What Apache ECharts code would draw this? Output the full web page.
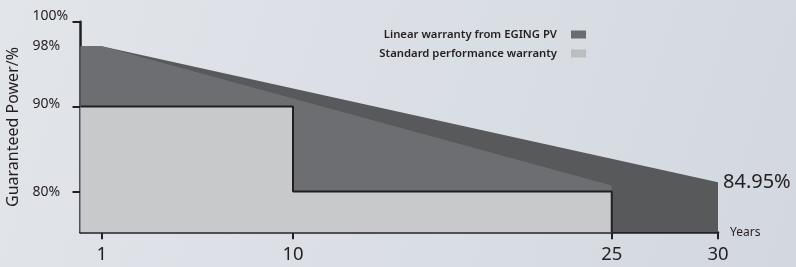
<!DOCTYPE html>
<html>
<head>
<meta charset="utf-8">
<title>Guaranteed Power</title>
<script src="https://cdn.jsdelivr.net/npm/echarts@6/dist/echarts.min.js"></script>
<style>
  html, body { margin: 0; padding: 0; }
  #chart { width: 796px; height: 267px; }
</style>
</head>
<body>
<div id="chart"></div>
<script>
// values (the drawing is schematic, so the y positions are what it shows)
var outerYears = [0, 1, 30];
var outerPower = [97.1, 97.1, 81.1];
var linearYears = [0, 1, 25];
var linearPower = [97.1, 97.1, 80.7];
var stdYears = [0, 10, 10, 25, 25];
var stdPower = [90, 90, 80, 80, 75.2];

var xTicks = [1, 10, 25, 30];
var yTicks = [80, 90, 99.99];
var yLabelValues = [80, 90, 97.1, 99.99];
var yLabelTexts = ['80%', '90%', '98%', '100%'];
var endLabel = '84.95%';

var ink = '#231f20';

function pairs(xs, ys) {
  return xs.map(function (x, i) { return [x, ys[i]]; });
}

var chart = echarts.init(document.getElementById('chart'));

chart.setOption({
  backgroundColor: {
    type: 'linear', x: 0, y: 0, x2: 1, y2: 1,
    colorStops: [{ offset: 0, color: '#e2e5ea' }, { offset: 1, color: '#d3d8e0' }]
  },
  textStyle: { fontFamily: 'Noto Sans' },
  animation: false,
  grid: { left: 80.5, right: 78, top: 21.7, bottom: 34.7, outerBoundsMode: 'none' },
  legend: {
    orient: 'vertical',
    right: 205,
    top: 24,
    align: 'right',
    icon: 'rect',
    itemWidth: 15,
    itemHeight: 8,
    itemGap: 8,
    textStyle: { fontSize: 11.3, fontWeight: 600, color: ink, padding: [0, 9, 0, 0] },
    data: [
      { name: 'Linear warranty from EGING PV', itemStyle: { color: '#6b6c70' } },
      { name: 'Standard performance warranty', itemStyle: { color: '#bcbdbf' } }
    ]
  },
  xAxis: {
    type: 'value',
    min: 0,
    max: 30,
    name: 'Years',
    nameLocation: 'end',
    nameGap: 12,
    nameTextStyle: { fontSize: 12, color: ink, padding: [4, 0, 0, 0] },
    splitLine: { show: false },
    axisLine: { lineStyle: { color: ink, width: 2.5 } },
    axisTick: { customValues: xTicks, length: 7, lineStyle: { color: ink, width: 2 } },
    axisLabel: { customValues: xTicks, margin: 13, fontSize: 18.5, color: ink }
  },
  yAxis: {
    type: 'value',
    min: 75.2,
    max: 100,
    name: 'Guaranteed Power/%',
    nameLocation: 'middle',
    nameGap: 58,
    nameTextStyle: { fontSize: 16, color: ink },
    splitLine: { show: false },
    axisLine: { show: true, lineStyle: { color: ink, width: 2.5 } },
    axisTick: { show: true, customValues: yTicks, length: 8, lineStyle: { color: ink, width: 2 } },
    axisLabel: {
      customValues: yLabelValues,
      align: 'left',
      margin: 48,
      fontSize: 14,
      color: ink,
      formatter: function (v) {
        var i = yLabelValues.indexOf(v);
        if (i < 0) return '';
        if (i === 3) return '{up|' + yLabelTexts[i] + '}';
        if (i === 1) return '{half|' + yLabelTexts[i] + '}';
        return yLabelTexts[i];
      },
      rich: {
        up: { fontSize: 14, color: ink, padding: [0, 0, 12, 0] },
        half: { fontSize: 14, color: ink, padding: [0, 0, 6, 0] }
      }
    }
  },
  series: [
    {
      name: 'outer',
      type: 'line',
      data: pairs(outerYears, outerPower),
      showSymbol: false,
      symbol: 'none',
      lineStyle: { width: 0 },
      areaStyle: { color: '#58595b', opacity: 1 },
      endLabel: {
        show: true, distance: 5,
        formatter: endLabel, color: ink, fontSize: 20, fontFamily: 'Noto Sans'
      },
      z: 1
    },
    {
      name: 'Linear warranty from EGING PV',
      type: 'line',
      data: pairs(linearYears, linearPower),
      showSymbol: false,
      symbol: 'none',
      color: '#6b6c70',
      lineStyle: { width: 0 },
      areaStyle: { color: '#6d6e71', opacity: 1 },
      z: 2
    },
    {
      name: 'Standard performance warranty',
      type: 'line',
      data: pairs(stdYears, stdPower),
      showSymbol: false,
      symbol: 'none',
      color: '#bcbdbf',
      lineStyle: { color: ink, width: 2 },
      areaStyle: { color: '#c8c9cb', opacity: 1 },
      z: 3
    }
  ]
});
</script>
</body>
</html>
